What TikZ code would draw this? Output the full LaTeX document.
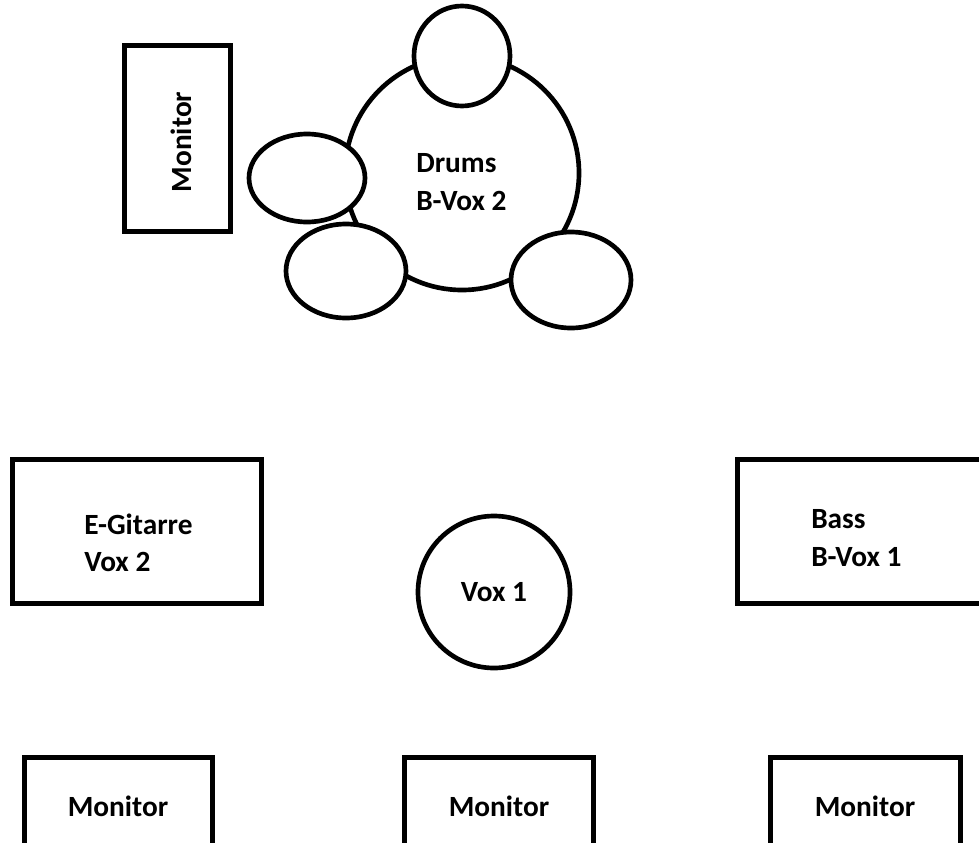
\documentclass[tikz,border=0pt]{standalone}
\usepackage{fontspec}
\setmainfont{Carlito}
\usepackage{tikz}

\tikzset{
  rahmen/.style={line width=3.9pt},
  trommel/.style={line width=3.5pt, fill=white},
  beschriftung/.style={font=\fontsize{22}{28}\selectfont\bfseries, align=left, inner sep=0pt},
}

\begin{document}
\begin{tikzpicture}[x=0.75pt,y=0.75pt,yscale=-1,xscale=1]
\useasboundingbox (0,0) rectangle (979,843);

%Shape: Rectangle [monitor drums]
\draw [rahmen] (124.5,45.5) rectangle (230.5,231.5);
%Shape: Circle [drumset]
\draw [line width=3.5pt] (462,173) circle [radius=117];
%Shape: Ellipse [toms]
\draw [trommel] (462,56) ellipse [x radius=48, y radius=50];
\draw [trommel] (307,178) ellipse [x radius=58, y radius=44];
\draw [trommel] (346,271) ellipse [x radius=60, y radius=47];
\draw [trommel] (571,280) ellipse [x radius=60, y radius=48];

%Shape: Rectangle [gitarre]
\draw [rahmen] (12.5,459.5) rectangle (261.5,603.5);
%Shape: Rectangle [bass]
\draw [rahmen] (737.5,459.5) rectangle (1000,603.5);
%Shape: Circle [vox 1]
\draw [line width=3.5pt] (494,592) circle [radius=76];

%Shape: Rectangle [monitore vorn]
\draw [rahmen] (24.5,757.5) rectangle (212.5,880);
\draw [rahmen] (404.5,757.5) rectangle (593.5,880);
\draw [rahmen] (770.5,757.5) rectangle (960.5,880);

% Text Node
\node [beschriftung, rotate=90] (monlinks) at (181,142) {Monitor};
% Text Node
\node [beschriftung, anchor=west] (drums) at (416,182) {Drums\\B-Vox 2};
% Text Node
\node [beschriftung, anchor=west] (gitarre) at (84,543) {E-Gitarre\\Vox 2};
% Text Node
\node [beschriftung, anchor=west] (bass) at (811,538) {Bass\\B-Vox 1};
% Text Node
\node [beschriftung] (vox) at (494,592) {Vox 1};
% Text Node
\node [beschriftung] (monA) at (118,806) {Monitor};
\node [beschriftung] (monB) at (499,806) {Monitor};
\node [beschriftung] (monC) at (865,806) {Monitor};

\end{tikzpicture}
\end{document}
